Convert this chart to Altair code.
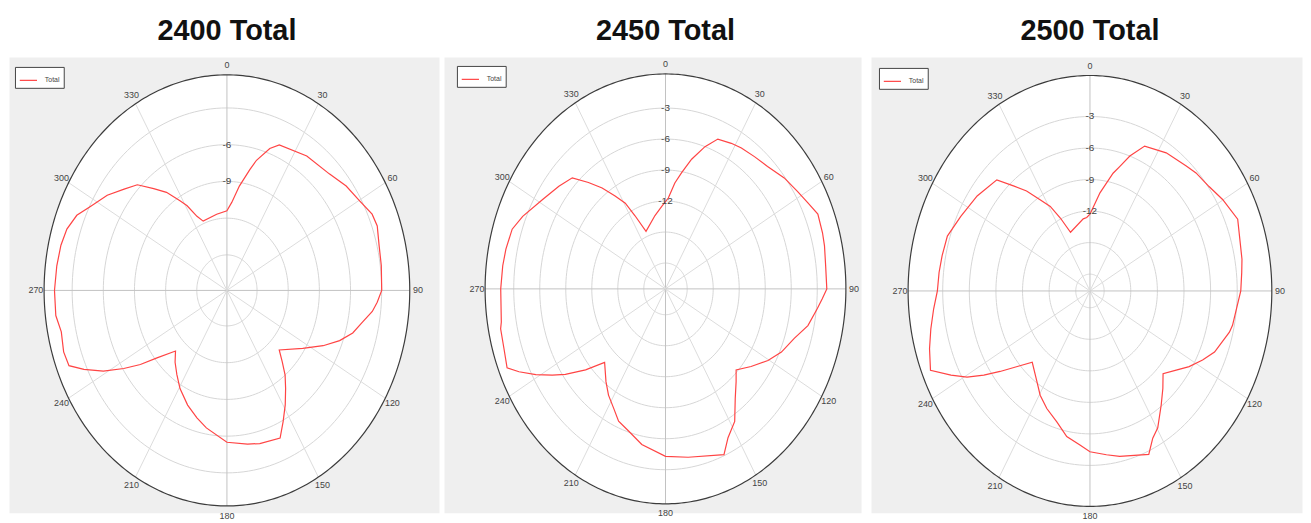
import altair as alt
import pandas as pd

# ---------------- data ----------------
TITLES = ["2400 Total", "2450 Total", "2500 Total"]

P1_ANGLE = [0, 3.7, 8, 12.6, 15, 19.6, 23, 35, 46, 53.4, 60, 66, 70, 76, 82.2, 90, 93.8,
            97, 101.2, 106, 110.7, 116, 123, 134, 137.6, 141, 144.8, 149, 153.2, 157,
            165.8, 171, 180, 190, 195.5, 202, 209.4, 215, 220.4, 225, 230.7, 234, 237.3,
            241, 244.9, 248, 252.3, 258, 262.9, 270, 277, 283, 288, 293, 297.7, 304,
            309.9, 315, 319.7, 324, 328.3, 331, 334.5, 338, 351]
P1_DB = [-11.4, -10.7, -9.3, -7.8, -6.9, -5.6, -5.0, -4.5, -4.2, -3.6, -3.2, -2.6, -2.5,
         -2.8, -2.9, -3.0, -3.4, -3.8, -4.6, -5.3, -6.3, -7.6, -9.2, -10.9, -10.0, -9.0,
         -8.1, -7.0, -5.9, -4.8, -5.0, -5.2, -5.5, -6.5, -7.1, -7.8, -8.7, -9.5, -10.2,
         -10.9, -9.2, -7.6, -6.1, -4.3, -2.7, -1.5, -1.4, -1.6, -1.3, -1.3, -1.4, -1.5,
         -1.7, -2.2, -3.1, -4.0, -5.0, -5.7, -7.0, -8.0, -9.3, -10.0, -11.2, -11.8, -11.6]

P2_ANGLE = [2.1, 6, 9.4, 13.5, 18.3, 22.6, 28.3, 32.7, 38.7, 44.8, 51.9, 58.2, 63, 67.6,
            73.3, 77.2, 83.1, 90, 93, 96.3, 102.2, 107.9, 114.6, 120.4, 127.3, 133.9,
            137.7, 142.8, 148.1, 153.4, 157.2, 170.9, 180, 190.3, 197.2, 202.9, 207.4,
            212.6, 217.4, 224.6, 229.6, 234.4, 237.4, 241, 244.6, 247.3, 252.8, 258.5,
            260.4, 270, 276.8, 281.8, 288.1, 293.1, 301.4, 308.9, 315, 319.2, 323.2,
            327.1, 330.8, 333.6, 338, 350.3, 356.9]
P2_DB = [-11.7, -10.2, -9.1, -7.6, -6.0, -4.8, -4.5, -4.3, -4.1, -3.8, -3.1, -2.6, -2.1,
         -1.5, -1.6, -1.7, -1.9, -1.9, -2.4, -2.9, -3.7, -4.9, -5.8, -6.8, -8.1, -9.2,
         -8.4, -7.2, -5.4, -4.4, -3.1, -4.0, -4.3, -5.2, -6.1, -6.6, -7.5, -8.3, -9.2,
         -10.5, -8.4, -6.3, -5.0, -3.4, -1.8, -0.7, -1.0, -1.1, -1.3, -1.5, -1.6, -1.7,
         -1.9, -2.6, -3.9, -4.7, -5.3, -6.9, -8.3, -9.8, -11.0, -12.6, -14.5, -13.3, -12.5]

P3_ANGLE = [0, 6.9, 13.1, 15.8, 19.3, 24.1, 33.2, 42.4, 46.8, 53.5, 59.8, 67.7, 80, 84.1,
            90, 101.5, 104, 112.5, 117.4, 122.8, 127.8, 133.7, 138.5, 143.5, 149.6, 153.2,
            156.9, 168, 173.2, 180, 184.4, 190.7, 196.7, 203.5, 209.5, 214.7, 223.8, 228.7,
            232.9, 236.2, 239.4, 242.9, 247.2, 253.1, 258.6, 264.5, 270, 275.9, 281.4, 288,
            296, 305.4, 315.2, 319.2, 323.1, 327.2, 330.9, 334.3, 338.6, 353.7, 357]
P3_DB = [-12.3, -10.2, -8.1, -7.3, -6.0, -4.5, -3.9, -3.5, -3.2, -2.9, -2.3, -1.6, -2.2,
         -2.4, -2.6, -3.2, -3.4, -4.4, -5.3, -6.3, -7.3, -8.2, -7.2, -6.1, -4.5, -3.9,
         -2.7, -3.5, -3.9, -4.3, -4.9, -5.5, -6.6, -7.4, -8.2, -9.1, -10.2, -8.7, -6.9,
         -5.2, -3.5, -2.0, -0.1, -0.7, -1.3, -1.9, -2.4, -2.5, -2.6, -2.7, -3.4, -4.0,
         -4.7, -6.4, -7.7, -9.3, -10.4, -11.9, -13.6, -12.7, -12.6]

ANGLES = [P1_ANGLE, P2_ANGLE, P3_ANGLE]
DBS = [P1_DB, P2_DB, P3_DB]

RADIAL_MIN = [-17.9, -20.5, -19.6]
RADIAL_MAX = [-0.3, 0.3, 0.9]
RINGS = [[-3, -6, -9, -12, -15],
         [-3, -6, -9, -12, -15, -18],
         [-3, -6, -9, -12, -15, -18]]
RING_LABELS = [[-6, -9], [-3, -6, -9, -12], [-3, -6, -9, -12]]
ANGLE_TICKS = [0, 30, 60, 90, 120, 150, 180, 210, 240, 270, 300, 330]
SERIES = ["Total"]

# ---------------- layout / style ----------------
PANEL_W = [432, 419, 433]
PANEL_H = 458
XDOM = [[-1.192, 1.160], [-1.228, 1.084], [-1.204, 1.166]]
YDOM = [[-1.032, 1.083], [-1.042, 1.079], [-1.030, 1.086]]
LEG_X = [6, 13, 8]
LEG_Y = [10, 9, 11]
FONT = "Liberation Sans"
RED = "#ff4444"


def rexpr(lo, hi):
    return f"max(0, (datum.db - ({lo})) / ({hi - lo}))"


def panel(i):
    xs = alt.Scale(domain=XDOM[i], nice=False, zero=False)
    ys = alt.Scale(domain=YDOM[i], nice=False, zero=False)

    def X(f):
        return alt.X(f, type="quantitative", scale=xs, axis=None)

    def Y(f):
        return alt.Y(f, type="quantitative", scale=ys, axis=None)

    lo, hi = RADIAL_MIN[i], RADIAL_MAX[i]

    fill = alt.Chart(alt.sequence(0, 181, 1, as_="t")).transform_calculate(
        x="cos(datum.t*PI/180)",
        yt="sin(datum.t*PI/180)",
        yb="-sin(datum.t*PI/180)",
    ).mark_area(color="white").encode(x=X("x"), y=Y("yt"), y2=alt.Y2("yb"))

    rings = alt.Chart(pd.DataFrame({"db": RINGS[i]})).transform_calculate(
        a="sequence(0, 360, 2)"
    ).transform_flatten(["a"]).transform_calculate(
        r=rexpr(lo, hi)
    ).transform_calculate(
        x="datum.r*sin(datum.a*PI/180)",
        y="datum.r*cos(datum.a*PI/180)",
    ).mark_line(interpolate="linear-closed", color="#d6d6d6", strokeWidth=1).encode(
        x=X("x"), y=Y("y"), detail="db:N", order="a:Q"
    )

    spokes = alt.Chart(pd.DataFrame({"a": ANGLE_TICKS})).transform_calculate(
        x0="0", y0="0",
        x1="sin(datum.a*PI/180)", y1="cos(datum.a*PI/180)",
    ).mark_rule(strokeWidth=1).encode(
        x=X("x0"), y=Y("y0"), x2=alt.X2("x1"), y2=alt.Y2("y1"),
        color=alt.condition("datum.a % 90 == 0", alt.value("#c2c2c2"), alt.value("#dcdcdc")),
    )

    outer = alt.Chart(alt.sequence(0, 360, 1, as_="t")).transform_calculate(
        x="sin(datum.t*PI/180)", y="cos(datum.t*PI/180)"
    ).mark_line(interpolate="linear-closed", color="#3c3c3c", strokeWidth=1.2).encode(
        x=X("x"), y=Y("y"), order="t:Q"
    )

    curve = alt.Chart(pd.DataFrame({"angle": ANGLES[i], "db": DBS[i]})).transform_calculate(
        series=f"'{SERIES[0]}'", r=rexpr(lo, hi)
    ).transform_calculate(
        x="datum.r*sin(datum.angle*PI/180)",
        y="datum.r*cos(datum.angle*PI/180)",
    ).mark_line(interpolate="linear-closed", strokeWidth=1.2).encode(
        x=X("x"), y=Y("y"), order="angle:Q",
        color=alt.Color(
            "series:N",
            scale=alt.Scale(domain=SERIES, range=[RED]),
            legend=alt.Legend(
                title=None, orient="none", legendX=LEG_X[i], legendY=LEG_Y[i],
                symbolType="stroke", symbolSize=300, symbolStrokeWidth=1.2,
                labelFontSize=7, labelColor="#444", labelFont=FONT, labelOffset=7,
                fillColor="white", strokeColor="#444", padding=4,
            ),
        ),
    )

    alabels = alt.Chart(pd.DataFrame({"a": ANGLE_TICKS})).transform_calculate(
        lx="1.045*sin(datum.a*PI/180)", ly="1.045*cos(datum.a*PI/180)",
        lbl="toString(datum.a)",
    ).mark_text(fontSize=9, color="#444", font=FONT, baseline="middle").encode(
        x=X("lx"), y=Y("ly"), text="lbl:N"
    )

    rlabels = alt.Chart(pd.DataFrame({"db": RING_LABELS[i]})).transform_calculate(
        r=rexpr(lo, hi), x0="0", lbl="toString(datum.db)"
    ).mark_text(fontSize=10, color="#444", font=FONT, baseline="middle").encode(
        x=X("x0"), y=Y("r"), text="lbl:N"
    )

    title = alt.Chart(pd.DataFrame({"t": [TITLES[i]]})).mark_text(
        fontSize=29, fontWeight="bold", color="#111",
        font="Liberation Sans, Arial",
        baseline="alphabetic",
    ).encode(x=alt.datum(0), y=alt.value(-17), text="t:N")

    return alt.layer(fill, rings, spokes, outer, curve, alabels, rlabels, title).properties(
        width=PANEL_W[i], height=PANEL_H
    )


left = alt.hconcat(panel(0), panel(1), spacing=3).resolve_scale(
    x="independent", y="independent", color="independent"
).resolve_legend(color="independent")

chart = alt.hconcat(left, panel(2), spacing=8).resolve_scale(
    x="independent", y="independent", color="independent"
).resolve_legend(color="independent").properties(
    padding={"left": 0, "top": 7, "right": 0, "bottom": 0}
).configure_view(fill="#efefef", stroke="transparent")

chart.save("out.html", embed_options={"renderer": "svg", "actions": False})
